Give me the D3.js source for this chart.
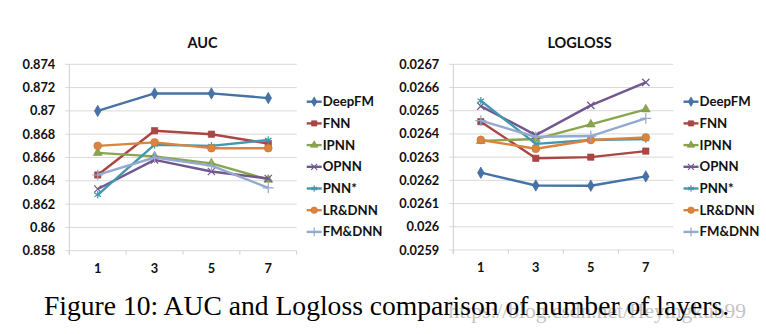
<!DOCTYPE html>
<html>
<head>
<script src="https://cdn.jsdelivr.net/npm/d3@7/dist/d3.min.js"></script>
<style>
  body { margin: 0; background: #fff; }
  text { font-family: Lato, "Open Sans", sans-serif; font-weight: bold; fill: #111; }
</style>
</head>
<body>
<svg id="fig" width="766" height="334"></svg>
<script>
var layers = ["1", "3", "5", "7"];
var models = ["DeepFM", "FNN", "IPNN", "OPNN", "PNN*", "LR&DNN", "FM&DNN"];

var aucDeepFM = [0.8700, 0.8715, 0.8715, 0.8711];
var aucFNN    = [0.8645, 0.8683, 0.8680, 0.8672];
var aucIPNN   = [0.8664, 0.8661, 0.8655, 0.8641];
var aucOPNN   = [0.8633, 0.8658, 0.8648, 0.8642];
var aucPNN    = [0.8628, 0.8671, 0.8670, 0.8675];
var aucLRDNN  = [0.8670, 0.8673, 0.8668, 0.8668];
var aucFMDNN  = [0.8645, 0.8660, 0.8653, 0.8634];

var llDeepFM = [0.026233, 0.026178, 0.026177, 0.026217];
var llFNN    = [0.026453, 0.026295, 0.026300, 0.026326];
var llIPNN   = [0.026370, 0.026378, 0.026441, 0.026506];
var llOPNN   = [0.026520, 0.026395, 0.026523, 0.026622];
var llPNN    = [0.026543, 0.026357, 0.026374, 0.026378];
var llLRDNN  = [0.026374, 0.026336, 0.026374, 0.026385];
var llFMDNN  = [0.026457, 0.026388, 0.026391, 0.026467];

var aucTicks = [0.858, 0.86, 0.862, 0.864, 0.866, 0.868, 0.87, 0.872, 0.874];
var llTicks  = [0.0259, 0.026, 0.0261, 0.0262, 0.0263, 0.0264, 0.0265, 0.0266, 0.0267];

var colors = ["#4572A7", "#AA4643", "#89A54E", "#71588F", "#4198AF", "#DB843D", "#93A9CF"];
var symbols = [d3.symbolDiamond, d3.symbolSquare, d3.symbolTriangle, d3.symbolTimes,
               d3.symbolAsterisk, d3.symbolCircle, d3.symbolPlus];
var filled = [true, true, true, false, false, true, false];

var svg = d3.select("#fig");

function marker(g, i, x, y, k) {
  var sizes = [38, 40, 34, 36, 40, 48, 40];
  var p = g.append("path")
    .attr("transform", "translate(" + x + "," + y + ")")
    .attr("d", d3.symbol().type(symbols[i]).size(sizes[i] * (k || 1))());
  if (filled[i]) p.attr("fill", colors[i]).attr("stroke", d3.color(colors[i]).darker(0.3)).attr("stroke-width", 0.6);
  else p.attr("fill", "none").attr("stroke", colors[i]).attr("stroke-width", 1.2);
}

function chart(opt) {
  var g = svg.append("g");
  var x = d3.scalePoint().domain(layers).range([opt.left, opt.right]).padding(0.5);
  var y = d3.scaleLinear().domain([opt.ticks[0], opt.ticks[opt.ticks.length - 1]]).range([opt.bottom, opt.top]);
  var step = x.step();

  g.selectAll("line.grid").data(opt.ticks).enter().append("line")
    .attr("x1", opt.left - 4).attr("x2", opt.right)
    .attr("y1", d => y(d)).attr("y2", d => y(d))
    .attr("stroke", "#d9d9d9").attr("stroke-width", 1);
  g.append("line").attr("x1", opt.left).attr("x2", opt.left)
    .attr("y1", opt.top).attr("y2", opt.bottom + 4).attr("stroke", "#d0d0d0");
  g.selectAll("line.xt").data(d3.range(layers.length + 1)).enter().append("line")
    .attr("x1", d => opt.left + d * step).attr("x2", d => opt.left + d * step)
    .attr("y1", opt.bottom).attr("y2", opt.bottom + 4).attr("stroke", "#d0d0d0");

  g.selectAll("text.yl").data(opt.ticks).enter().append("text")
    .attr("x", opt.left - 14).attr("y", d => y(d) + 4.5)
    .attr("text-anchor", "end").attr("font-size", 12.8)
    .text(d => String(+d.toFixed(4)));
  g.selectAll("text.xl").data(layers).enter().append("text")
    .attr("x", d => x(d)).attr("y", opt.bottom + 22)
    .attr("text-anchor", "middle").attr("font-size", 12.8).text(d => d);
  g.append("text").attr("x", opt.titleX).attr("y", 47.5)
    .attr("text-anchor", "middle").attr("font-size", 14.5).text(opt.title);

  var line = d3.line().x((d, i) => x(layers[i])).y(d => y(d));
  opt.series.forEach(function (s, i) {
    g.append("path").attr("d", line(s)).attr("fill", "none")
      .attr("stroke", colors[i]).attr("stroke-width", 2.4).attr("stroke-linejoin", "round");
    s.forEach(function (v, j) { marker(g, i, x(layers[j]), y(v)); });
  });

  models.forEach(function (m, i) {
    var ly = 101.7 + i * 21.7;
    g.append("line").attr("x1", opt.legX).attr("x2", opt.legX + 15)
      .attr("y1", ly).attr("y2", ly).attr("stroke", colors[i]).attr("stroke-width", 2.4);
    marker(g, i, opt.legX + 7.5, ly, 0.7);
    g.append("text").attr("x", opt.legX + 16).attr("y", ly + 4.5)
      .attr("font-size", 13.2).text(m);
  });
}

chart({ left: 69.3, right: 296.7, top: 64.3, bottom: 250.7, ticks: aucTicks, title: "AUC", titleX: 202.5, legX: 306.7,
        series: [aucDeepFM, aucFNN, aucIPNN, aucOPNN, aucPNN, aucLRDNN, aucFMDNN] });
chart({ left: 453.3, right: 673.3, top: 64.3, bottom: 250, ticks: llTicks, title: "LOGLOSS", titleX: 579.5, legX: 683.5,
        series: [llDeepFM, llFNN, llIPNN, llOPNN, llPNN, llLRDNN, llFMDNN] });

svg.append("text").attr("x", 746).attr("y", 318).attr("text-anchor", "end")
  .style("font-family", "'Liberation Serif', serif").style("font-weight", "normal")
  .style("fill", "#c4c4c4").attr("font-size", 21.5).text("https://blog.csdn.net/Heyingkub99");
svg.append("text").attr("x", 44).attr("y", 315)
  .style("font-family", "'Liberation Serif', 'Times New Roman', serif").style("font-weight", "normal")
  .style("fill", "#000").attr("font-size", 27.6)
  .text("Figure 10: AUC and Logloss comparison of number of layers.");
</script>
</body>
</html>
